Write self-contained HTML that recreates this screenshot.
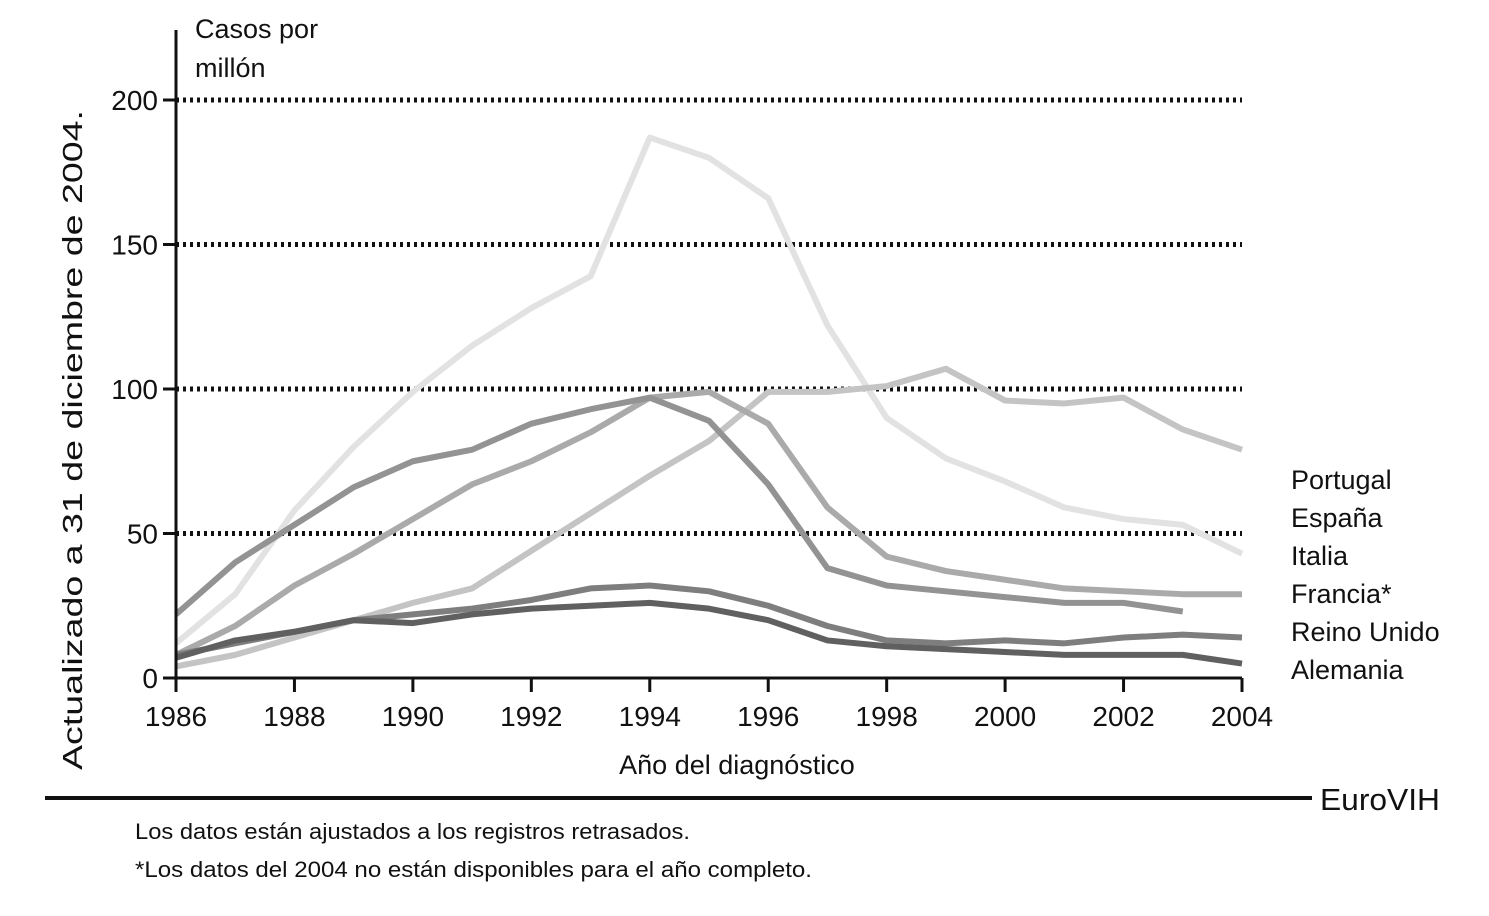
<!DOCTYPE html>
<html><head><meta charset="utf-8"><style>
body{margin:0;background:#fff;}
svg text{font-family:"Liberation Sans",sans-serif;fill:#111;}
</style></head><body>
<svg width="1489" height="911" viewBox="0 0 1489 911">
<g id="grid"></g>
<g id="series"></g>
<g id="axes"></g>
<text x="195" y="38" font-size="27">Casos por</text>
<text x="195" y="77" font-size="27">millón</text>
<text transform="translate(82,440) rotate(-90)" text-anchor="middle" font-size="28" textLength="660" lengthAdjust="spacingAndGlyphs">Actualizado a 31 de diciembre de 2004.</text>
<text x="737" y="774" text-anchor="middle" font-size="27">Año del diagnóstico</text>
<line x1="45" y1="798" x2="1312" y2="798" stroke="#111" stroke-width="4"/>
<text x="1320" y="810" font-size="31" textLength="120" lengthAdjust="spacingAndGlyphs">EuroVIH</text>
<text x="135" y="839" font-size="22" textLength="555" lengthAdjust="spacingAndGlyphs">Los datos están ajustados a los registros retrasados.</text>
<text x="135" y="877" font-size="22" textLength="677" lengthAdjust="spacingAndGlyphs">*Los datos del 2004 no están disponibles para el año completo.</text>
<g id="legend"></g>
</svg>
<script>
const years=[1986,1987,1988,1989,1990,1991,1992,1993,1994,1995,1996,1997,1998,1999,2000,2001,2002,2003,2004];
const espana=[12,29,58,80,99,115,128,139,187,180,166,122,90,76,68,59,55,53,43];
const portugal=[4,8,14,20,26,31,44,57,70,82,99,99,101,107,96,95,97,86,79];
const italia=[8,18,32,43,55,67,75,85,97,99,88,59,42,37,34,31,30,29,29];
const francia=[22,40,53,66,75,79,88,93,97,89,67,38,32,30,28,26,26,23,null];
const reinoUnido=[8,12,16,20,22,24,27,31,32,30,25,18,13,12,13,12,14,15,14];
const alemania=[7,13,16,20,19,22,24,25,26,24,20,13,11,10,9,8,8,8,5];
const yTicks=[0,50,100,150,200];
const xTicks=[1986,1988,1990,1992,1994,1996,1998,2000,2002,2004];
const legendLabels=["Portugal","España","Italia","Francia*","Reino Unido","Alemania"];
const NS="http://www.w3.org/2000/svg";
const x=v=>176+(v-1986)*(1242-176)/18;
const y=v=>678-v*(678-100)/200;
function mk(tag,attrs,parent){const e=document.createElementNS(NS,tag);for(const k in attrs)e.setAttribute(k,attrs[k]);parent.appendChild(e);return e;}
const grid=document.getElementById('grid'),axes=document.getElementById('axes'),ser=document.getElementById('series'),leg=document.getElementById('legend');
yTicks.forEach(t=>{
  if(t>0){const l=mk('line',{x1:176,x2:1242,y1:y(t),y2:y(t),stroke:'#111','stroke-width':5,'stroke-dasharray':'3 4'},grid);
  
  }
  const tk=mk('line',{x1:163,x2:176,y1:y(t),y2:y(t),stroke:'#111','stroke-width':3},axes);
  
  
  const tx=mk('text',{x:158,y:y(t)+10,'text-anchor':'end','font-size':28},axes);tx.textContent=t;
  
  
});
const ya=mk('line',{x1:176,x2:176,y1:30,y2:678,stroke:'#111','stroke-width':3},axes);


const xa=mk('line',{x1:176,x2:1242,y1:678,y2:678,stroke:'#111','stroke-width':3},axes);


xTicks.forEach(t=>{
  const tk=mk('line',{x1:x(t),x2:x(t),y1:678,y2:692,stroke:'#111','stroke-width':3},axes);
  
  
  const tx=mk('text',{x:x(t),y:726,'text-anchor':'middle','font-size':28},axes);tx.textContent=t;
  
  
});
const seriesList=[[espana,'#e2e2e2','espana'],[portugal,'#c4c4c4','portugal'],[italia,'#aaaaaa','italia'],[francia,'#939393','francia'],[reinoUnido,'#7e7e7e','reino-unido'],[alemania,'#606060','alemania']];
seriesList.forEach(([d,c,n])=>{
  const pts=[];d.forEach((v,i)=>{if(v!==null)pts.push(x(years[i])+','+y(v));});
  const p=mk('polyline',{points:pts.join(' '),fill:'none',stroke:c,'stroke-width':6,'stroke-linejoin':'round'},ser);
  
  
});
legendLabels.forEach((l,i)=>{
  const t=mk('text',{x:1291,y:489+i*38,'font-size':27},leg);t.textContent=l;
  
  
});
</script>
</body></html>
